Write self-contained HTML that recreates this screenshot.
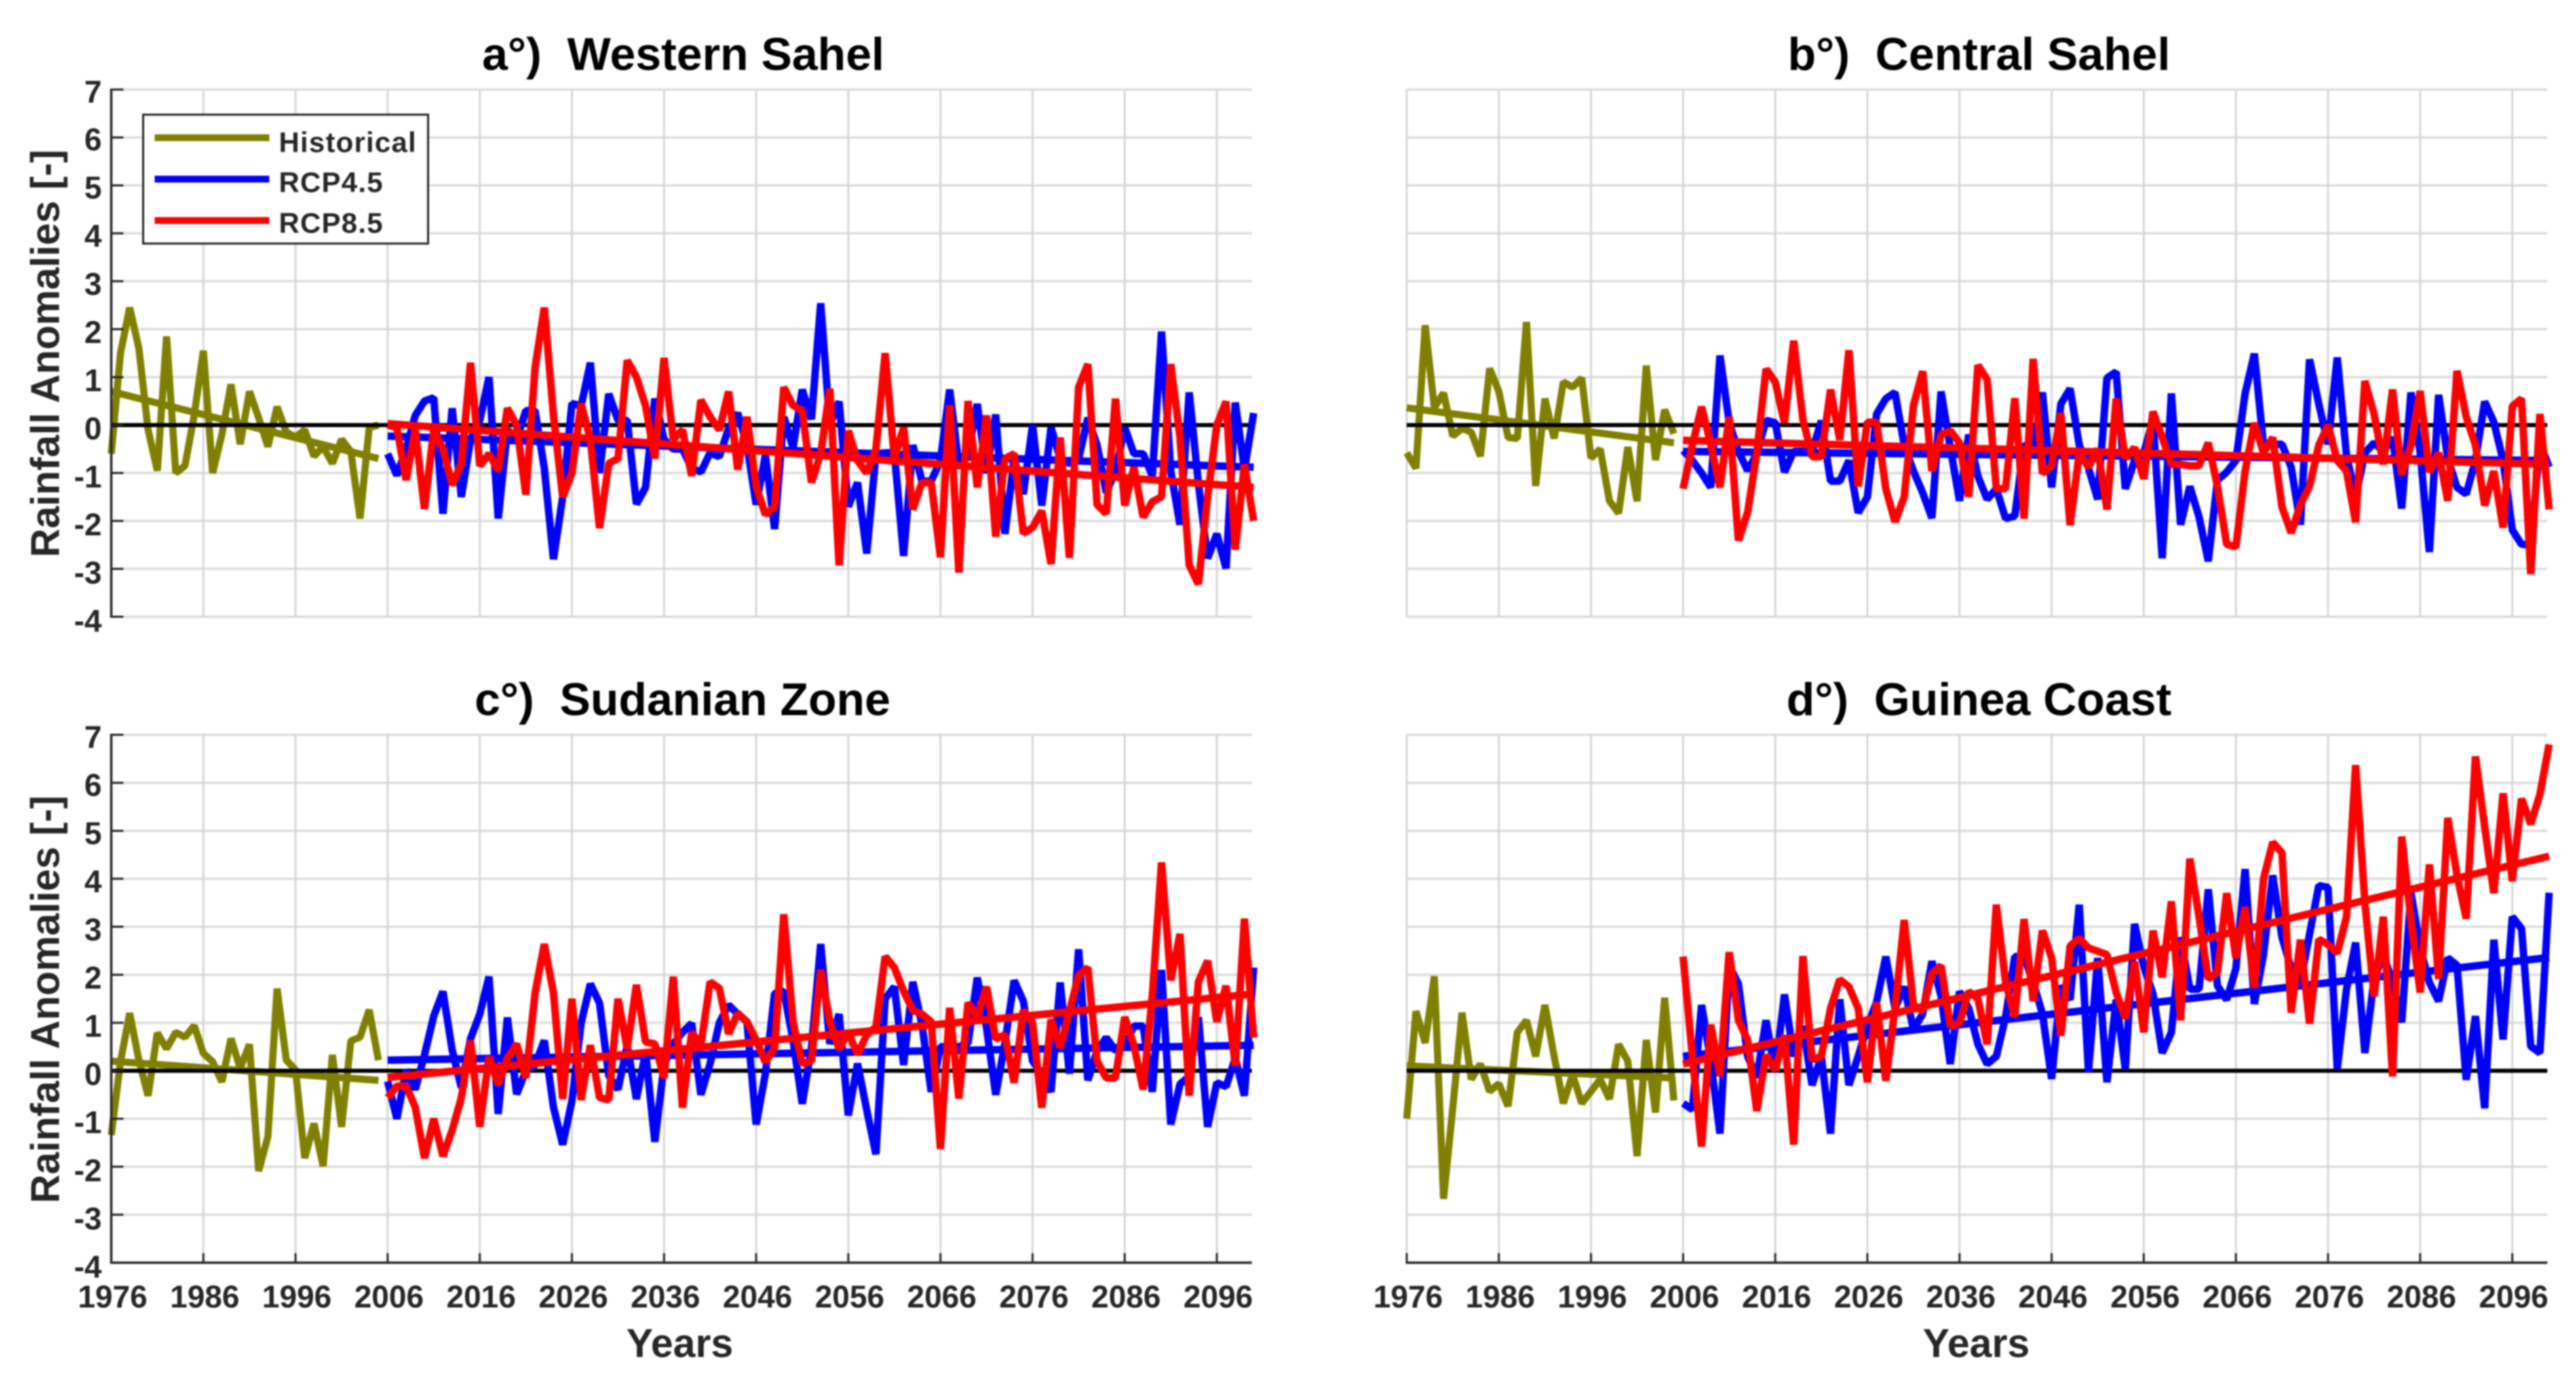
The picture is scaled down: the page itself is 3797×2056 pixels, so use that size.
<!DOCTYPE html>
<html lang="en">
<head>
<meta charset="utf-8">
<title>Rainfall Anomalies</title>
<style>
html,body{margin:0;padding:0;background:#fff;width:3797px;height:2056px;overflow:hidden}
svg{display:block;filter:blur(1.1px)}
text{font-family:"Liberation Sans",Arial,sans-serif;font-weight:bold;white-space:pre}
.title{font-size:68px;fill:#000;text-anchor:middle}
.axt{font-size:59px;fill:#262626;text-anchor:middle}
.leg{font-size:42px;fill:#262626;letter-spacing:1.2px}
.tick{font-size:46px;fill:#262626}
</style>
</head>
<body>
<svg id="chart" xmlns="http://www.w3.org/2000/svg" width="3797" height="2056" viewBox="0 0 3797 2056">
<rect x="0" y="0" width="3797" height="2056" fill="#fff"/>
<g id="plots"></g>
<text class="title" x="1007" y="103">a°)  Western Sahel</text>
<text class="title" x="2917" y="103">b°)  Central Sahel</text>
<text class="title" x="1006" y="1054">c°)  Sudanian Zone</text>
<text class="title" x="2917" y="1054">d°)  Guinea Coast</text>
<text class="axt" transform="translate(87,521) rotate(-90)">Rainfall Anomalies [-]</text>
<text class="axt" transform="translate(87,1473) rotate(-90)">Rainfall Anomalies [-]</text>
<text class="axt" x="1002" y="2000">Years</text>
<text class="axt" x="2913" y="2000">Years</text>
<g>
<rect x="211" y="169" width="420" height="190" fill="#fff" stroke="#262626" stroke-width="3"/>
<line x1="228" y1="203" x2="397" y2="203" stroke="#808000" stroke-width="10"/>
<line x1="228" y1="264" x2="397" y2="264" stroke="#0000ff" stroke-width="10"/>
<line x1="228" y1="325" x2="397" y2="325" stroke="#ff0000" stroke-width="10"/>
<text class="leg" x="411" y="224">Historical</text>
<text class="leg" x="411" y="283">RCP4.5</text>
<text class="leg" x="411" y="343">RCP8.5</text>
</g>
</svg>
<script>
const yTickLabels = [-4,-3,-2,-1,0,1,2,3,4,5,6,7];
const xTickLabels = [1976,1986,1996,2006,2016,2026,2036,2046,2056,2066,2076,2086,2096];
const historicalFirstYear = 1976;
const scenarioFirstYear = 2006;
const trendYearsHistorical = [1976,2005];
const trendYearsScenario = [2006,2100];

const histA = [-0.6,1.5,2.45,1.6,-0.1,-0.95,1.85,-1.0,-0.85,0.2,1.55,-1.0,-0.2,0.85,-0.4,0.7,0.15,-0.45,0.38,-0.15,-0.25,-0.1,-0.65,-0.45,-0.8,-0.3,-0.55,-1.95,-0.05,0];
const rcp45A = [
-0.6,-1.05,-0.5,0.2,
0.5,0.57,-1.85,0.35,-1.5,-0.3,0.1,1.0,-1.95,-0.1,
-0.3,0.3,0.3,-0.9,-2.8,-1.5,0.45,0.4,1.3,-1.0,
0.65,0.1,0.1,-1.65,-1.3,0.55,-0.3,-0.5,-0.5,-0.9,
-0.98,-0.58,-0.66,-0.07,0.25,-0.42,-1.66,-0.63,-2.17,0.17,
-0.47,0.74,0.12,2.54,0,0.49,-1.7,-1.2,-2.68,-0.6,
-0.58,-0.58,-2.73,-0.42,-1.17,-1.17,-0.74,0.74,-0.85,-0.6,
0.44,-1.0,0.22,-2.27,-0.7,-1.44,0,-1.68,-0.05,-0.7,
-0.8,-0.7,0.15,-0.42,-1.41,-0.96,-0.05,-0.6,-0.6,-1.06,
1.95,-0.96,-2.08,0.68,-1.22,-2.78,-2.27,-2.99,0.47,-0.93,
0.25];
const rcp85A = [
0.0,-0.05,-1.15,-0.1,
-1.75,-0.1,-0.5,-1.25,-0.8,1.3,-0.85,-0.6,-0.95,0.35,
0.0,-1.45,1.2,2.45,0.2,-1.5,-1.0,0.45,-0.3,-2.15,
-0.8,-0.7,1.35,1.0,0.4,-0.7,1.4,-0.3,-0.1,-1.06,
0.52,0.17,-0.1,0.7,-0.93,0.17,-1.28,-1.87,-1.71,0.79,
0.41,0.3,-1.2,-0.6,0.76,-2.93,-0.12,-0.74,-1.0,-0.5,
1.5,-0.7,-0.05,-1.76,-1.2,-1.2,-2.76,0.41,-3.08,0.5,
-1.3,0.2,-2.33,-0.7,-0.6,-2.26,-2.14,-1.79,-2.9,-0.26,
-2.77,0.79,1.27,-1.66,-1.85,0.55,-1.68,-0.88,-1.92,-1.6,
-1.5,1.27,-0.26,-2.92,-3.32,-1.5,0,0.49,-2.6,-0.82,
-2.0];
const trendHistA = [0.7,-0.7];
const trend45A = [-0.23,-0.88];
const trend85A = [0.03,-1.3];

const histB = [-0.58,-0.9,2.08,0.36,0.67,-0.23,-0.07,-0.15,-0.65,1.18,0.7,-0.26,-0.28,2.15,-1.27,0.55,-0.28,0.9,0.79,0.98,-0.69,-0.5,-1.58,-1.84,-0.46,-1.59,1.24,-0.73,0.32,-0.18];
const rcp45B = [
-0.53,-0.74,-1.0,-1.3,
1.45,0.05,-0.55,-0.95,-0.6,0.1,0.05,-0.98,-0.55,-0.55,
-0.55,0.09,-1.17,-1.17,-0.74,-1.83,-1.5,0.23,0.55,0.68,
-0.42,-0.96,-1.41,-1.94,0.7,-0.47,-1.58,-0.2,-1.07,-1.55,
-1.33,-1.95,-1.9,-0.4,-0.55,0.68,-1.3,0.44,0.76,-0.42,
-0.9,-1.55,0.98,1.11,-1.33,-0.74,-0.58,0.1,-2.78,0.66,
-2.08,-1.28,-1.92,-2.84,-1.15,-0.98,-0.74,0.66,1.49,-0.42,
-0.4,-0.4,-0.88,-2.08,1.37,0.44,-0.4,1.41,-0.63,-1.5,
-0.58,-0.37,-0.55,-0.26,-1.74,0.68,-0.58,-2.65,0.63,-0.7,
-1.3,-1.44,-0.74,0.49,0.06,-0.74,-2.19,-2.49,-2.5,-0.37,
-0.88];
const rcp85B = [
-1.33,-0.42,0.38,-0.4,
-1.3,0.17,-2.41,-1.82,-0.58,1.17,0.9,0.04,1.76,0.12,
-0.66,-0.66,0.74,-0.31,1.56,-1.28,0.06,0.06,-1.33,-2.02,
-1.5,0.41,1.12,-0.96,-0.2,-0.12,-0.37,-1.5,1.25,0.95,
-1.33,-1.33,0.56,-1.95,1.38,-1.01,-0.85,0.25,-2.09,-0.58,
-0.88,-0.5,-1.76,0.55,-0.69,-0.47,-1.12,0.28,-0.26,-0.82,
-0.82,-0.85,-0.85,-0.37,-1.28,-2.49,-2.54,-0.96,0.04,-0.58,
-0.26,-1.71,-2.25,-1.66,-1.28,-0.42,0,-0.74,-0.96,-2.03,
0.92,0.23,-0.82,0.74,-1.04,-0.42,0.71,-0.98,-0.58,-1.58,
1.13,0.17,-0.42,-1.68,-0.96,-2.14,0.39,0.55,-3.11,0.23,
-1.76];
const trendHistB = [0.36,-0.37];
const trend45B = [-0.55,-0.74];
const trend85B = [-0.32,-0.82];

const histC = [-1.34,0.19,1.2,0.22,-0.52,0.79,0.46,0.8,0.7,0.94,0.36,0.19,-0.23,0.67,0.05,0.55,-2.09,-1.37,1.71,0.22,0.02,-1.82,-1.1,-1.99,0.33,-1.17,0.62,0.7,1.27,0.22];
const rcp45C = [
-0.22,-1.0,0.02,-0.39,
0.33,1.14,1.65,0.43,-0.35,0.67,1.18,1.96,-0.9,1.11,
-0.49,0,0.12,0.63,-0.76,-1.54,-0.63,1.0,1.81,1.41,
-0.1,-0.39,0.53,-0.59,0.39,-1.48,0.12,0.56,0.8,0.99,
-0.5,0.15,1.0,1.37,1.18,1.02,-1.12,-0.06,1.61,1.66,
0.64,-0.69,0.48,2.64,0.56,1.18,-0.93,0.15,-0.82,-1.74,
1.5,1.75,0.12,1.85,0.96,-0.44,0.5,0.5,0.5,0.58,
1.94,0.9,-0.5,0.58,1.88,1.45,0.2,-0.06,-0.44,1.84,
-0.06,2.53,-0.2,0.42,0.69,0.42,0.5,0.93,0.93,-0.44,
2.1,-1.12,-0.28,-0.12,1.12,-1.17,-0.25,-0.33,0.26,-0.52,
2.15];
const rcp85C = [
-0.56,-0.32,-0.32,-0.76,
-1.82,-1.0,-1.78,-1.24,-0.56,0.63,-1.17,0.29,-0.29,0.26,
0.56,-0.15,1.62,2.64,1.62,-0.59,1.5,-0.61,0.53,-0.56,
-0.61,1.5,0.46,1.79,0.6,0.56,-0.15,1.96,-0.77,0.8,
0.53,1.85,1.72,0.77,1.2,1.02,0.64,0.18,0.48,3.26,
1.02,0.15,0.2,2.1,1.02,0.45,0.8,0.34,0.75,0.91,
2.38,2.15,1.66,1.26,1.18,1.02,-1.63,1.31,-0.58,1.42,
1.12,1.75,0.66,0.75,-0.25,1.26,1.0,-0.77,1.07,0.48,
1.23,1.99,2.15,0.2,-0.15,-0.15,1.12,0.53,-0.39,1.56,
4.34,1.88,2.85,-0.52,1.85,2.29,1.02,1.77,0.1,3.17,
0.69];
const trendHistC = [0.2,-0.2];
const trend45C = [0.22,0.53];
const trend85C = [-0.14,1.6];

const histD = [-1.0,1.24,0.58,1.97,-2.67,-0.77,1.21,-0.18,0.14,-0.43,-0.27,-0.74,0.8,1.05,0.3,1.37,0.3,-0.68,-0.08,-0.68,-0.43,-0.18,-0.59,0.55,0.2,-1.78,0.64,-0.87,1.52,-0.62];
const rcp45D = [
-0.68,-0.81,1.37,0.2,
-1.31,2.19,1.81,0.3,-0.14,1.05,-0.02,1.59,0.3,0.93,
-0.3,0.3,-1.31,1.49,-0.3,0.3,0.93,1.43,2.38,1.3,
1.75,0.86,1.18,2.28,1.56,0.14,1.65,1.3,0.55,0.14,
0.3,1.12,2.38,2.38,1.84,1.19,-0.17,1.77,1.48,3.46,
-0.03,2.35,-0.24,1.48,0.04,3.06,2.17,1.6,0.37,0.8,
2.78,1.7,1.7,3.78,1.77,1.48,2.13,4.2,1.39,2.42,
4.07,2.78,2.13,1.84,2.85,3.86,3.82,0.04,1.7,2.67,
0.37,1.91,2.42,1.84,1.01,3.71,2.56,1.84,1.45,2.35,
2.2,-0.19,1.14,-0.78,2.73,0.65,3.21,2.96,0.51,0.37,
3.71];
const rcp85D = [
2.38,0.3,-1.58,0.96,
-0.11,2.47,1.05,0.64,-0.84,0.33,0.01,0.74,-1.54,2.39,
0.23,0.3,1.3,1.9,1.75,1.3,-0.24,1.43,-0.21,1.3,
3.14,1.37,1.24,2.03,2.19,0.93,0.99,1.65,1.5,0.55,
3.46,1.84,1.12,3.16,1.45,2.92,2.35,0.73,2.6,2.76,
2.56,2.49,2.42,1.63,1.09,2.27,0.8,2.92,1.95,3.53,
1.05,4.42,3.2,1.91,2.06,3.7,2.35,3.41,1.73,4.0,
4.76,4.54,1.21,2.73,0.98,2.74,2.63,2.45,3.21,6.37,
3.5,1.55,3.21,-0.12,4.88,3.14,1.63,4.3,1.91,5.27,
4.07,3.17,6.55,5.08,3.7,5.78,3.95,5.67,5.14,5.76,
6.8];
const trendHistD = [0.1,-0.15];
const trend45D = [0.3,2.36];
const trend85D = [0.14,4.47];

const SVGNS = "http://www.w3.org/2000/svg";
const plotsRoot = document.getElementById("plots");
const YEARS_WIDE = 123.8;
const PX_PER_YEAR = 13.58;

function shape(parent, tag, attrs) {
  const el = document.createElementNS(SVGNS, tag);
  for (const k in attrs) el.setAttribute(k, attrs[k]);
  parent.appendChild(el);
  return el;
}

function drawSeries(g, xf, yf, firstYear, values, colour, width, name) {
  const pts = values.map((v, i) => xf(firstYear + i).toFixed(1) + "," + yf(v).toFixed(1)).join(" ");
  const el = shape(g, "polyline", {points: pts, fill: "none", stroke: colour, "stroke-width": width, "stroke-linejoin": "bevel"});
  
  
}

function drawTrend(g, xf, yf, years, values, colour, width, name) {
  const el = shape(g, "line", {x1: xf(years[0]), y1: yf(values[0]), x2: xf(years[1]), y2: yf(values[1]), stroke: colour, "stroke-width": width});
  
  
}

function drawPanel(cfg) {
  const g = shape(plotsRoot, "g", {});
  
  
  const xf = y => cfg.left + (y - 1976) * PX_PER_YEAR;
  const yf = v => cfg.bottom - (v + 4) * (cfg.bottom - cfg.top) / 11;
  const right = xf(1976 + YEARS_WIDE);

  yTickLabels.forEach(v => {
    const line = shape(g, "line", {x1: cfg.left, x2: right, y1: yf(v), y2: yf(v), stroke: "#dddddd", "stroke-width": 3.5});
    
    
  });
  xTickLabels.forEach(y => {
    const line = shape(g, "line", {x1: xf(y), x2: xf(y), y1: cfg.top, y2: cfg.bottom, stroke: "#d6d6d6", "stroke-width": 3});
    
    
  });

  drawSeries(g, xf, yf, historicalFirstYear, cfg.hist, "#808000", 10.5, 'series-historical-' + cfg.key);
  drawTrend(g, xf, yf, trendYearsHistorical, cfg.tHist, "#808000", 10.5, 'trend-historical-' + cfg.key);

  const zero = shape(g, "line", {x1: cfg.left, x2: right, y1: yf(0), y2: yf(0), stroke: "#000", "stroke-width": 6});
  
  

  drawSeries(g, xf, yf, scenarioFirstYear, cfg.r45, "#0000ff", 11, 'series-rcp45-' + cfg.key);
  drawTrend(g, xf, yf, trendYearsScenario, cfg.t45, "#0000ff", 11, 'trend-rcp45-' + cfg.key);
  drawSeries(g, xf, yf, scenarioFirstYear, cfg.r85, "#ff0000", 11, 'series-rcp85-' + cfg.key);
  drawTrend(g, xf, yf, trendYearsScenario, cfg.t85, "#ff0000", 11, 'trend-rcp85-' + cfg.key);

  if (cfg.showY) {
    const axis = shape(g, "line", {x1: cfg.left, x2: cfg.left, y1: cfg.top - 1.5, y2: cfg.bottom + 1.5, stroke: "#262626", "stroke-width": 3.5});
    
    
    yTickLabels.forEach(v => {
      const tick = shape(g, "line", {x1: cfg.left, x2: cfg.left + 18, y1: yf(v), y2: yf(v), stroke: "#262626", "stroke-width": 3});
      
      
      const label = shape(g, "text", {x: 150, y: yf(v) + 20 + (3 - v) * 0.3, "text-anchor": "end", class: "tick"});
      
      
      label.textContent = String(v);
    });
  }
  if (cfg.showX) {
    const axis = shape(g, "line", {x1: cfg.left - 1.5, x2: right, y1: cfg.bottom, y2: cfg.bottom, stroke: "#262626", "stroke-width": 3.5});
    
    
    xTickLabels.forEach(y => {
      const tick = shape(g, "line", {x1: xf(y), x2: xf(y), y1: cfg.bottom, y2: cfg.bottom - 14, stroke: "#262626", "stroke-width": 3});
      
      
      const label = shape(g, "text", {x: xf(y) + 2, y: 1927, "text-anchor": "middle", class: "tick"});
      
      
      label.textContent = String(y);
    });
  }
}

drawPanel({key:"western-sahel", left:164, top:132, bottom:909, showY:true, showX:false, hist:histA, r45:rcp45A, r85:rcp85A, tHist:trendHistA, t45:trend45A, t85:trend85A});
drawPanel({key:"central-sahel", left:2073.5, top:132, bottom:909, showY:false, showX:false, hist:histB, r45:rcp45B, r85:rcp85B, tHist:trendHistB, t45:trend45B, t85:trend85B});
drawPanel({key:"sudanian-zone", left:164, top:1083, bottom:1861, showY:true, showX:true, hist:histC, r45:rcp45C, r85:rcp85C, tHist:trendHistC, t45:trend45C, t85:trend85C});
drawPanel({key:"guinea-coast", left:2073.5, top:1083, bottom:1861, showY:false, showX:true, hist:histD, r45:rcp45D, r85:rcp85D, tHist:trendHistD, t45:trend45D, t85:trend85D});
</script>
</body>
</html>
